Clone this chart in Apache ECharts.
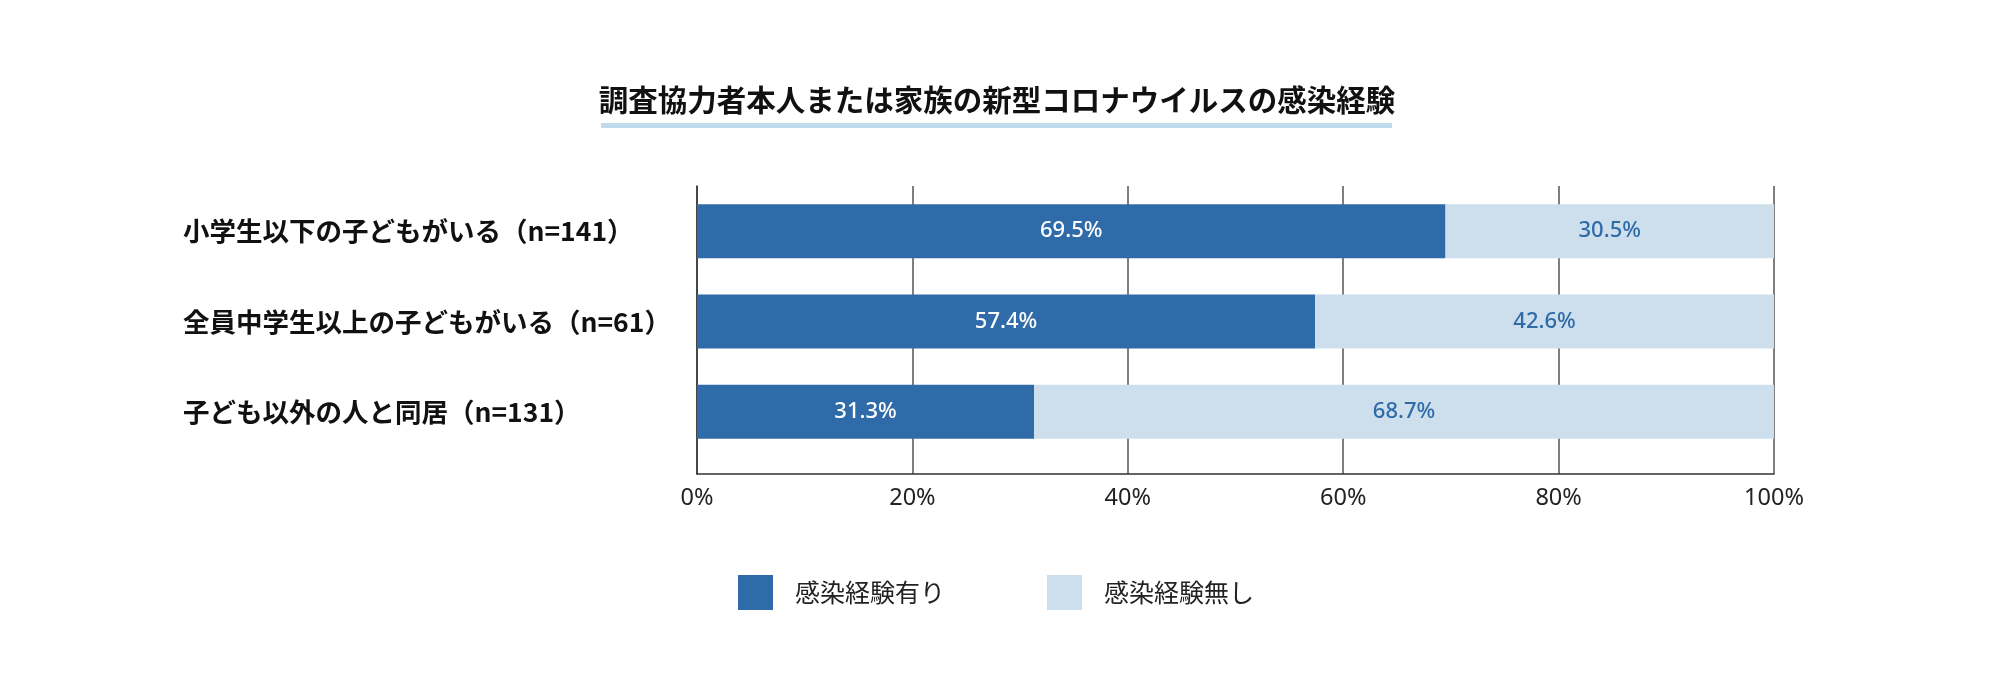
<!DOCTYPE html>
<html>
<head>
<meta charset="utf-8">
<script src="https://cdn.jsdelivr.net/npm/echarts@6/dist/echarts.min.js"></script>
<style>
html,body{margin:0;padding:0;background:#fff;}
#chart{width:1994px;height:692px;}
</style>
</head>
<body>
<div id="chart"></div>
<script>
const titleText = '調査協力者本人または家族の新型コロナウイルスの感染経験';
const categories = ['小学生以下の子どもがいる（n=141）', '全員中学生以上の子どもがいる（n=61）', '子ども以外の人と同居（n=131）'];
const seriesNames = ['感染経験有り', '感染経験無し'];
const infectedYes = [69.5, 57.4, 31.3];
const infectedNo = [30.5, 42.6, 68.7];
const xTicks = [0, 20, 40, 60, 80, 100];

const DARK = '#2f6ba9';
const LIGHT = '#cddfec';
const CJK = '"Noto Sans CJK JP", "Noto Sans", sans-serif';

const chart = echarts.init(document.getElementById('chart'));
chart.setOption({
  backgroundColor: '#ffffff',
  animation: false,
  title: {
    text: titleText,
    left: 'center',
    top: 80,
    textStyle: { fontFamily: CJK, fontSize: 29.5, fontWeight: 'bold', color: '#111' }
  },
  graphic: [{
    type: 'rect',
    shape: { x: 601, y: 123, width: 791, height: 5 },
    style: { fill: '#c0daee' },
    silent: true
  }],
  legend: {
    left: 738,
    top: 575,
    padding: 0,
    itemWidth: 35,
    itemHeight: 35,
    itemGap: 102,
    icon: 'rect',
    data: seriesNames,
    textStyle: { fontFamily: CJK, fontSize: 25, color: '#222', padding: [0, 0, 0, 17] }
  },
  grid: [
    { left: 697, right: 220, top: 186, height: 288 },
    { left: 697, right: 220, top: 186, height: 271 }
  ],
  xAxis: [
    {
      gridIndex: 0, type: 'value', min: xTicks[0], max: xTicks[xTicks.length - 1], interval: 20,
      axisLine: { show: true, lineStyle: { color: '#333', width: 1.5 } },
      axisTick: { show: false },
      splitLine: { show: true, lineStyle: { color: '#555', width: 1.5 } },
      axisLabel: { formatter: '{value}%', fontFamily: '"Noto Sans", sans-serif', fontSize: 23.5, color: '#222', margin: 12 }
    },
    {
      gridIndex: 1, type: 'value', min: 0, max: 100, show: false,
      splitLine: { show: false }
    }
  ],
  yAxis: [
    {
      gridIndex: 0, type: 'category', data: categories, inverse: true,
      axisLine: { show: true, lineStyle: { color: '#333', width: 1.5 } },
      axisTick: { show: false }, axisLabel: { show: false }, splitLine: { show: false }
    },
    {
      gridIndex: 1, type: 'category', data: categories, inverse: true,
      axisLine: { show: false }, axisTick: { show: false },
      axisLabel: { align: 'left', margin: 514, fontFamily: CJK, fontSize: 26.5, fontWeight: 'bold', color: '#111' }
    }
  ],
  series: [
    {
      name: seriesNames[0], type: 'bar', stack: 'total', xAxisIndex: 1, yAxisIndex: 1,
      data: infectedYes, barWidth: 54,
      itemStyle: { color: DARK },
      label: { show: true, position: 'inside', formatter: '{c}%', color: '#fff', fontSize: 22, fontWeight: 500, fontFamily: '"Noto Sans", sans-serif' }
    },
    {
      name: seriesNames[1], type: 'bar', stack: 'total', xAxisIndex: 1, yAxisIndex: 1,
      data: infectedNo, barWidth: 54,
      itemStyle: { color: LIGHT },
      label: { show: true, position: 'inside', formatter: '{c}%', color: DARK, fontSize: 22, fontWeight: 500, fontFamily: '"Noto Sans", sans-serif' }
    }
  ]
});
</script>
</body>
</html>
